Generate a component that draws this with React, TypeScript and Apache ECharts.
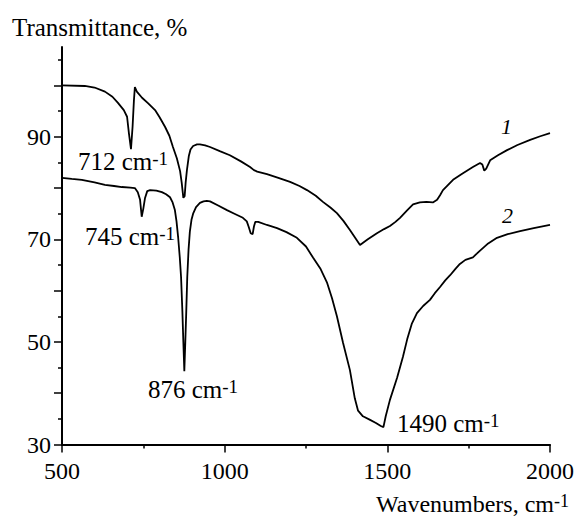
import React, { useEffect, useRef } from "react";
import * as echarts from "echarts";

// Curve 1: [wavenumber cm-1, transmittance %]
const curve1: [number, number][] = [
  [500, 100], [570, 99.9], [600, 99.6], [632, 98.8], [655, 97.8], [672, 96.6], [690, 95.2],
  [700, 93.9], [706, 90.5], [712, 87.6], [717, 92], [721, 97], [724, 99.7], [730, 98.8],
  [746, 97.6], [765, 96.5], [786, 95.2], [800, 93.8], [817, 91.9], [830, 90.2], [841, 88.0],
  [853, 85.8], [863, 83.3], [868, 81], [873, 78.1], [877, 78.4], [880, 81], [884, 83.5],
  [890, 86.3], [895, 87.5], [903, 88.2], [915, 88.5], [924, 88.5], [940, 88.3], [955, 88.0],
  [985, 87.2], [1016, 86.4], [1050, 85.2], [1078, 84.1], [1090, 83.5], [1100, 83.2],
  [1130, 82.7], [1165, 82], [1201, 81.2], [1230, 80.4], [1253, 79.6], [1280, 78.5],
  [1302, 77.3], [1325, 76.2], [1345, 75.1], [1365, 73.6], [1385, 71.8], [1400, 70.4],
  [1416, 68.9], [1440, 70], [1468, 71.2], [1490, 72], [1508, 72.6], [1525, 73.4],
  [1539, 74.2], [1560, 75.6], [1579, 76.8], [1600, 77.2], [1620, 77.3], [1640, 77.2],
  [1653, 77.7], [1662, 78.6], [1671, 79.6], [1702, 81.6], [1730, 82.8], [1763, 84.1],
  [1785, 84.9], [1792, 84.6], [1798, 83.4], [1804, 83.8], [1816, 85.4], [1840, 86.4],
  [1868, 87.4], [1900, 88.4], [1939, 89.4], [1970, 90.1], [2000, 90.7],
];

// Curve 2: [wavenumber cm-1, transmittance %]
const curve2: [number, number][] = [
  [500, 82], [530, 81.8], [561, 81.6], [600, 81.1], [632, 80.6], [660, 80.4], [684, 80.2],
  [710, 80.1], [724, 80], [733, 79.2], [740, 77.7], [745, 74.4], [750, 76], [755, 78],
  [762, 79.4], [771, 79.6], [790, 79.5], [807, 79.2], [820, 78.8], [832, 78.2], [840, 77.2],
  [847, 75.7], [852, 73.5], [857, 70.4], [862, 66.5], [866, 62.6], [870, 56], [873, 50],
  [876, 44.3], [879, 50], [882, 56], [885, 62.6], [889, 68], [893, 71.5], [898, 73.8],
  [903, 75], [912, 76.3], [924, 77.1], [935, 77.4], [945, 77.5], [955, 77.4], [980, 76.6],
  [1007, 75.7], [1030, 75], [1056, 74.2], [1068, 73.5], [1074, 72.4], [1080, 71.2],
  [1086, 71], [1090, 72.5], [1094, 73.4], [1103, 73.4], [1130, 72.8], [1161, 72.2],
  [1190, 71.4], [1222, 70.3], [1250, 68.6], [1272, 66.4], [1295, 64.2], [1315, 61.5],
  [1330, 58.5], [1345, 55], [1364, 49.8], [1385, 44.5], [1400, 39], [1410, 36.6],
  [1425, 35.5], [1447, 34.8], [1465, 34.2], [1480, 33.6], [1488, 33.4], [1495, 35.5],
  [1508, 38.7], [1530, 43], [1548, 47.1], [1561, 50.5], [1575, 53.5], [1591, 55.6],
  [1610, 57], [1631, 58.2], [1646, 59.5], [1662, 60.7], [1678, 62], [1693, 63],
  [1710, 64.3], [1723, 65.2], [1740, 66], [1763, 66.5], [1775, 67.2], [1785, 67.8],
  [1810, 69.2], [1837, 70.3], [1870, 71], [1908, 71.6], [1950, 72.2], [2000, 72.8],
];

const yMajorTicks = [30, 40, 50, 60, 70, 80, 90, 100];
const yMinorTicks = [35, 45, 55, 65, 75, 85, 95, 105];
const yLabels = [30, 50, 70, 90];

const FONT = "Liberation Serif, Times New Roman, serif";

export default function App() {
  const ref = useRef<HTMLDivElement>(null);
  useEffect(() => {
    document.body.style.margin = "0";
    if (!ref.current) return;
    const chart = echarts.init(ref.current, undefined, { renderer: "svg" });
    const sup = (size: number) =>
      ({ s: { fontSize: size, fontFamily: FONT, fill: "#000", verticalAlign: "top" } } as any);
    const txt = (x: number, y: number, text: string, size = 25, extra: any = {}) => ({
      type: "text",
      x,
      y,
      style: {
        text,
        fontSize: size,
        fontFamily: FONT,
        fill: "#000",
        verticalAlign: "middle",
        align: "left",
        rich: sup(Math.round(size * 0.76)),
        ...extra,
      },
    });
    chart.setOption({
      animation: false,
      backgroundColor: "#fff",
      textStyle: { fontFamily: FONT },
      grid: { left: 62, right: 25, top: 47, bottom: 72.5, containLabel: false, outerBoundsMode: "none" } as any,
      xAxis: {
        type: "value",
        min: 500,
        max: 2000,
        interval: 500,
        axisLine: { show: true, onZero: false, lineStyle: { color: "#000", width: 2 } },
        axisTick: { show: true, length: 8, lineStyle: { color: "#000", width: 1.5 } },
        minorTick: { show: true, splitNumber: 2, length: 4, lineStyle: { color: "#000", width: 1.5 } },
        axisLabel: { fontSize: 24, fontFamily: FONT, color: "#000", margin: 14, formatter: (v: number) => String(v) },
        splitLine: { show: false },
        minorSplitLine: { show: false },
      },
      yAxis: [
        {
          type: "value",
          min: 30,
          max: 107.5,
          position: "left",
          axisLine: { show: true, onZero: false, lineStyle: { color: "#000", width: 2 } },
          axisTick: { show: true, length: 8, customValues: yMajorTicks, lineStyle: { color: "#000", width: 1.5 } },
          axisLabel: { customValues: yLabels, fontSize: 24, fontFamily: FONT, color: "#000", margin: 11, formatter: (v: number) => String(v) },
          splitLine: { show: false },
        },
        {
          type: "value",
          min: 30,
          max: 107.5,
          position: "left",
          axisLine: { show: false },
          axisTick: { show: true, length: 4, customValues: yMinorTicks, lineStyle: { color: "#000", width: 1.5 } },
          axisLabel: { show: false },
          splitLine: { show: false },
        },
      ],
      series: [
        {
          type: "line",
          data: curve1,
          yAxisIndex: 0,
          showSymbol: false,
          symbol: "none",
          lineStyle: { color: "#000", width: 1.8 },
        },
        {
          type: "line",
          data: curve2,
          yAxisIndex: 0,
          showSymbol: false,
          symbol: "none",
          lineStyle: { color: "#000", width: 1.8 },
        },
      ],
      graphic: [
        txt(12, 27, "Transmittance, %", 25),
        txt(78, 161, "712 cm{s|-1}"),
        txt(85, 236, "745 cm{s|-1}"),
        txt(148, 389, "876 cm{s|-1}"),
        txt(397, 423, "1490 cm{s|-1}"),
        txt(501, 126, "1", 22, { fontStyle: "italic" }),
        txt(502, 215, "2", 22, { fontStyle: "italic" }),
        txt(376, 504, "Wavenumbers, cm{s|-1}", 24),
      ],
    });
    return () => chart.dispose();
  }, []);
  return <div ref={ref} style={{ width: 575, height: 517 }} />;
}
